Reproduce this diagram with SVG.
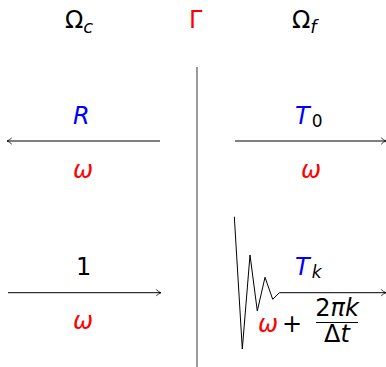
<svg xmlns="http://www.w3.org/2000/svg" width="386" height="367" viewBox="0 0 386 367">
<style>
text{font-family:"DejaVu Sans","Liberation Sans",sans-serif;font-size:24px;fill:#000}
.i{font-style:italic}
.b{fill:#0000ff}
.r{fill:#ff0000}
.s{font-size:17px}
.ln{stroke:#000;stroke-width:1;fill:none}
</style>
<defs>
<marker id="ah" viewBox="0 0 10 10" refX="9" refY="5" markerWidth="8" markerHeight="8" markerUnits="userSpaceOnUse" orient="auto">
<path d="M3,1 Q6,4 9,5 Q6,6 3,9" fill="none" stroke="#000" stroke-width="1"/>
</marker>
</defs>
<g id="labels">
<text x="65" y="28">Ω<tspan class="i" font-size="18" dy="5">c</tspan></text>
<text x="189" y="28" class="r">Γ</text>
<text x="292" y="28">Ω<tspan class="i" font-size="18" dy="5">f</tspan></text>
</g>
<line id="interface" x1="197" y1="67" x2="197" y2="367" stroke="#808080" stroke-width="1.6"/>
<g id="connectors">
<line class="ln" x1="160" y1="141" x2="7" y2="141" marker-end="url(#ah)"/>
<line class="ln" x1="235" y1="141" x2="386" y2="141" marker-end="url(#ah)"/>
<line class="ln" x1="8" y1="292.7" x2="161" y2="292.7" marker-end="url(#ah)"/>
<polyline class="ln" points="234.3,216.7 242.3,349 250,255 257.3,311 265,277.3 272.7,299.3 279.3,292.7 386,292.7" marker-end="url(#ah)"/>
</g>
<g id="reflected">
<text x="73" y="124" class="i b">R</text>
<text x="73" y="178" class="i r">ω</text>
</g>
<g id="transmitted0">
<text x="295" y="124" class="i b">T<tspan class="s" fill="#000" font-style="normal" dx="2" dy="3">0</tspan></text>
<text x="301" y="178" class="i r">ω</text>
</g>
<g id="incident">
<text x="76" y="275">1</text>
<text x="73" y="329" class="i r">ω</text>
</g>
<g id="transmittedk">
<text x="295" y="275" class="i b">T<tspan class="s" fill="#000" dx="2" dy="3">k</tspan></text>
<text x="258" y="332" class="i r">ω</text>
<text x="282" y="332">+</text>
<text x="337" y="316" text-anchor="middle" font-size="15">2<tspan font-style="italic">πk</tspan></text>
<line x1="316" y1="322.5" x2="358" y2="322.5" stroke="#000" stroke-width="1"/>
<text x="337" y="342" text-anchor="middle" font-size="15">Δ<tspan font-style="italic">t</tspan></text>
</g>
</svg>
